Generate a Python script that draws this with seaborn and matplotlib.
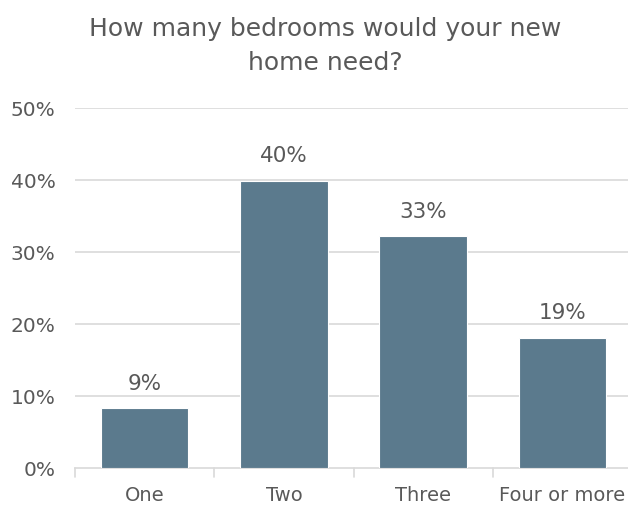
import matplotlib
matplotlib.use("Agg")
import matplotlib.pyplot as plt
import seaborn as sns
import pandas as pd

categories = ["One", "Two", "Three", "Four or more"]
values = [0.083, 0.399, 0.322, 0.181]
labels = ["9%", "40%", "33%", "19%"]
yticks = [0, 0.1, 0.2, 0.3, 0.4, 0.5]
ytick_labels = ["0%", "10%", "20%", "30%", "40%", "50%"]
title = "How many bedrooms would your new\nhome need?"

sns.set_theme(style="white")
plt.rcParams['font.family'] = ['DejaVu Sans']
TXT = "#595959"

df = pd.DataFrame({"cat": categories, "val": values})

fig = plt.figure(figsize=(6.28, 5.07), dpi=100)
ax = fig.add_axes([75/628, 1 - 468/507, 557/628, 360/507])
sns.barplot(data=df, x="cat", y="val", color="#5B7A8D", saturation=1,
            width=0.63, ax=ax, zorder=3, edgecolor="white", linewidth=0.8)

ax.set_ylim(0, 0.5)
ax.set_xlim(-0.5, 3.5)
ax.set_yticks(yticks)
ax.set_yticklabels(ytick_labels, fontsize=14.5, color=TXT)
ax.tick_params(axis="y", length=0, pad=14)
ax.tick_params(axis="x", length=0, pad=13, labelsize=14, labelcolor=TXT)
for y in yticks[1:]:
    ax.axhline(y, color="#D9D9D9", linewidth=1.2, zorder=1)
ax.set_xlabel("")
ax.set_ylabel("")
for s in ["top", "right", "left"]:
    ax.spines[s].set_visible(False)
ax.spines["bottom"].set_color("#D9D9D9")
ax.spines["bottom"].set_linewidth(1.2)
# category boundary ticks
for b in [-0.5, 0.5, 1.5, 2.5, 3.5]:
    ax.plot([b, b], [0, -0.012], color="#D9D9D9", linewidth=1.2, clip_on=False, zorder=2)

for i, (v, lab) in enumerate(zip(values, labels)):
    ax.text(i, v + 0.02, lab, ha="center", va="bottom", fontsize=15.5, color=TXT)

fig.text(0.518, 0.966, title, ha="center", va="top", fontsize=18, color=TXT,
         linespacing=1.5)

fig.savefig("out.png", dpi=100, facecolor="white")
